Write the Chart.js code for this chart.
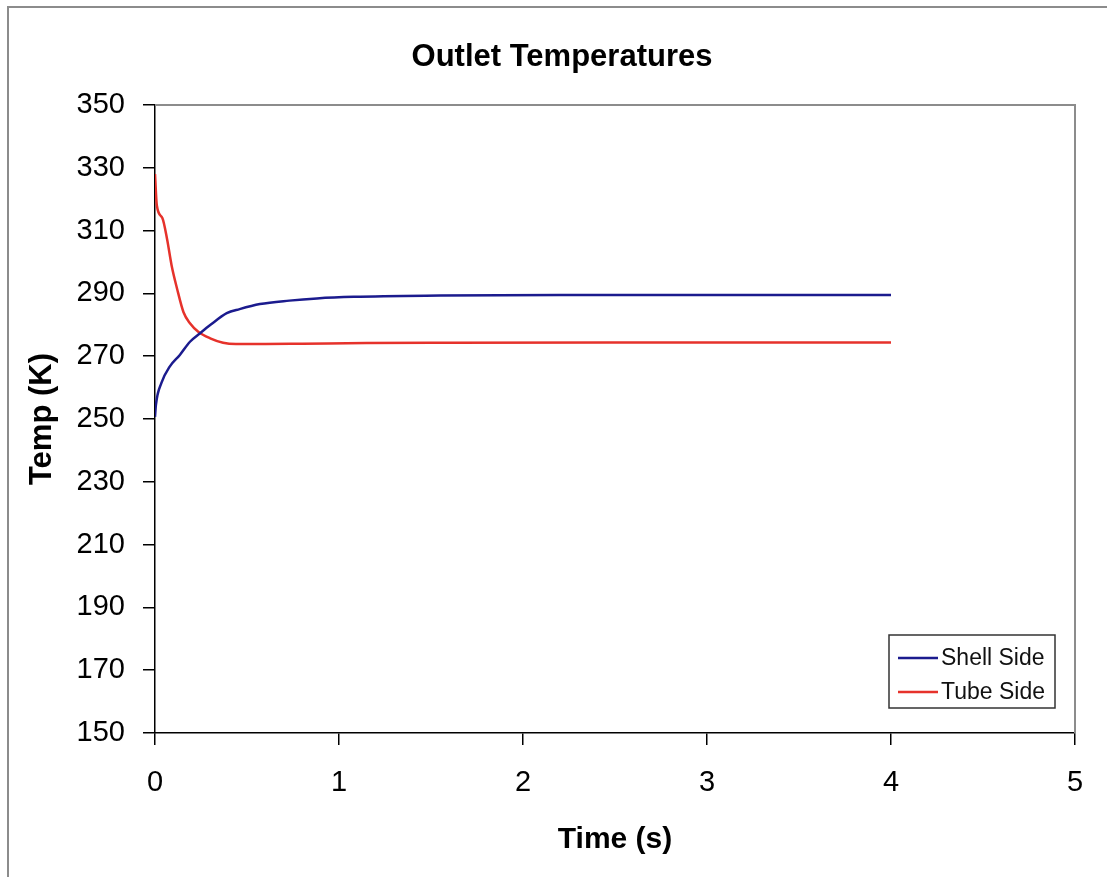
<!DOCTYPE html>
<html>
<head>
<meta charset="utf-8">
<script src="https://cdn.jsdelivr.net/npm/chart.js@4.4.1/dist/chart.umd.min.js"></script>
<style>
  html, body { margin: 0; padding: 0; background: #fff; }
  #wrap { width: 1107px; height: 877px; }
</style>
</head>
<body>
<div id="wrap"><canvas id="c" width="1107" height="877"></canvas></div>
<script>
// ---- data ----
const chartTitle = 'Outlet Temperatures';
const xAxisTitle = 'Time (s)';
const yAxisTitle = 'Temp (K)';
const seriesNames = ['Shell Side', 'Tube Side'];

const shellTime = [0, 0.005, 0.035, 0.08, 0.135, 0.19, 0.245, 0.30, 0.39, 0.46, 0.57, 0.73, 0.88, 1.08, 1.55, 2.2, 3.0, 4.0];
const shellTemp = [250.7, 254.5, 261.5, 266.7, 270.4, 274.6, 277.3, 279.9, 283.7, 285.0, 286.6, 287.7, 288.4, 288.9, 289.3, 289.5, 289.5, 289.5];

const tubeTime = [0, 0.01, 0.04, 0.065, 0.09, 0.12, 0.155, 0.19, 0.235, 0.30, 0.37, 0.44, 0.6, 0.8, 1.15, 1.6, 2.5, 3.2, 4.0];
const tubeTemp = [328, 318, 314, 307.5, 299, 291.5, 284, 280.5, 277.8, 275.7, 274.3, 273.9, 273.9, 274.0, 274.2, 274.3, 274.4, 274.4, 274.4];

const xMin = 0, xMax = 5, xStep = 1;
const yMin = 150, yMax = 350, yStep = 20;

// ---- styles ----
const FONT = '"Liberation Sans", Arial, Helvetica, sans-serif';
const BLUE = '#1b1b8e';
const RED = '#e6322b';

function pts(xs, ys) { return xs.map((x, i) => ({ x: x, y: ys[i] })); }

const decor = {
  id: 'decor',
  beforeDraw(chart) {
    const ctx = chart.ctx;
    ctx.save();
    ctx.fillStyle = '#fff';
    ctx.fillRect(0, 0, chart.width, chart.height);
    // outer frame (left and top edges visible)
    ctx.strokeStyle = '#8c8c8c';
    ctx.lineWidth = 2;
    ctx.beginPath();
    ctx.moveTo(8, chart.height + 5);
    ctx.lineTo(8, 7);
    ctx.lineTo(chart.width + 5, 7);
    ctx.stroke();
    ctx.restore();
  },
  afterDatasetsDraw(chart) {
    const ctx = chart.ctx;
    const a = chart.chartArea;
    ctx.save();
    ctx.strokeStyle = '#8c8c8c';
    ctx.lineWidth = 2;
    ctx.beginPath();
    ctx.moveTo(a.left, a.top);
    ctx.lineTo(a.right, a.top);
    ctx.lineTo(a.right, a.bottom);
    ctx.stroke();
    ctx.restore();
  },
  afterDraw(chart) {
    const ctx = chart.ctx;
    const a = chart.chartArea;
    ctx.save();
    ctx.fillStyle = '#000';
    // chart title
    ctx.font = 'bold 31px ' + FONT;
    ctx.textAlign = 'center';
    ctx.textBaseline = 'middle';
    ctx.fillText(chartTitle, 562, 57);
    // x axis title
    ctx.font = 'bold 30px ' + FONT;
    ctx.fillText(xAxisTitle, (a.left + a.right) / 2, 840);
    // y axis title
    ctx.save();
    ctx.translate(42, (a.top + a.bottom) / 2);
    ctx.rotate(-Math.PI / 2);
    ctx.font = 'bold 31px ' + FONT;
    ctx.fillText(yAxisTitle, 0, 0);
    ctx.restore();

    // legend box inside plot area
    const bx = 889, by = 635, bw = 166, bh = 73;
    ctx.fillStyle = '#fff';
    ctx.fillRect(bx, by, bw, bh);
    ctx.strokeStyle = '#333';
    ctx.lineWidth = 1.5;
    ctx.strokeRect(bx, by, bw, bh);
    ctx.font = '23px ' + FONT;
    ctx.textAlign = 'left';
    ctx.textBaseline = 'middle';
    chart.data.datasets.forEach((ds, i) => {
      const y = 658 + i * 34;
      ctx.strokeStyle = ds.borderColor;
      ctx.lineWidth = 2.5;
      ctx.beginPath();
      ctx.moveTo(898, y);
      ctx.lineTo(938, y);
      ctx.stroke();
      ctx.fillStyle = '#111';
      ctx.fillText(ds.label, 941, y + 1);
    });
    ctx.restore();
  }
};

new Chart(document.getElementById('c'), {
  type: 'scatter',
  data: {
    datasets: [
      { label: seriesNames[0], data: pts(shellTime, shellTemp), showLine: true, borderColor: BLUE, backgroundColor: BLUE, borderWidth: 2.5, pointRadius: 0, cubicInterpolationMode: 'monotone' },
      { label: seriesNames[1], data: pts(tubeTime, tubeTemp), showLine: true, borderColor: RED, backgroundColor: RED, borderWidth: 2.5, pointRadius: 0, cubicInterpolationMode: 'monotone' }
    ]
  },
  options: {
    responsive: false,
    animation: false,
    devicePixelRatio: 1,
    layout: { padding: { top: 105, right: 32, left: 0, bottom: 0 } },
    plugins: {
      legend: { display: false },
      title: { display: false },
      tooltip: { enabled: false }
    },
    scales: {
      x: {
        type: 'linear',
        min: xMin, max: xMax,
        afterFit(s) { s.height = 144; },
        ticks: { stepSize: xStep, color: '#000', font: { family: FONT, size: 29 }, padding: 21, maxRotation: 0 },
        grid: { drawOnChartArea: false, drawTicks: true, tickLength: 12, color: '#000', lineWidth: 1.5 },
        border: { color: '#000', width: 1.5 }
      },
      y: {
        type: 'linear',
        min: yMin, max: yMax,
        afterFit(s) { s.width = 155; },
        ticks: { stepSize: yStep, color: '#000', font: { family: FONT, size: 29 }, padding: 18 },
        grid: { drawOnChartArea: false, drawTicks: true, tickLength: 12, color: '#000', lineWidth: 1.5 },
        border: { color: '#000', width: 1.5 }
      }
    }
  },
  plugins: [decor]
});
</script>
</body>
</html>
